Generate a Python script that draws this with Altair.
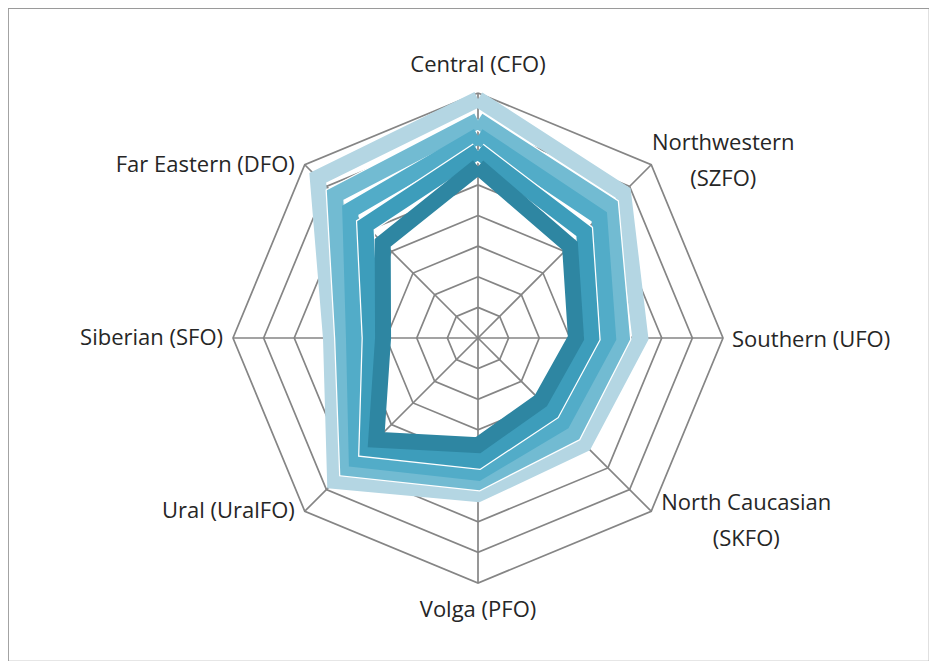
import altair as alt
import pandas as pd
import numpy as np

# ---- data ----
categories = ["Central (CFO)", "Northwestern\n(SZFO)", "Southern (UFO)",
              "North Caucasian\n(SKFO)", "Volga (PFO)", "Ural (UralFO)",
              "Siberian (SFO)", "Far Eastern (DFO)"]
series_names = ["S1", "S2", "S3", "S4", "S5"]
s1 = [7.8, 6.7, 5.3, 4.9, 5.1, 6.6, 4.8, 7.4]
s2 = [7.1, 6.1, 4.7, 4.4, 4.7, 6.0, 4.4, 6.6]
s3 = [6.6, 5.6, 4.25, 3.9, 4.4, 5.6, 4.05, 5.9]
s4 = [6.1, 4.9, 3.7, 3.4, 4.0, 5.1, 3.5, 5.2]
s5 = [5.6, 4.25, 3.2, 2.9, 3.5, 4.7, 3.1, 4.4]
series_values = [s1, s2, s3, s4, s5]
colors = ["#b4d6e3", "#72bbd2", "#52acc8", "#3d9dbb", "#2e86a2"]
highlight = [False, True, False, True, False]
rings = [1, 2, 3, 4, 5, 6, 7, 8]

# ---- geometry (styles) ----
W, H = 921, 653
CX, CY = 470, 330
PX = 30.625
xdom = [-CX / PX, (W - CX) / PX]
ydom = [-(H - CY) / PX, CY / PX]
n = len(categories)
ang = [2 * np.pi * j / n for j in range(n)]

xs = alt.X("x:Q", scale=alt.Scale(domain=xdom, nice=False, zero=False), axis=None)
ys = alt.Y("y:Q", scale=alt.Scale(domain=ydom, nice=False, zero=False), axis=None)

gcol = "#858585"
# grid rings
rows = []
for k in rings:
    for j in range(n + 1):
        a = ang[j % n]
        rows.append({"ring": k, "o": j, "x": k * np.sin(a), "y": k * np.cos(a)})
grid_df = pd.DataFrame(rows)
grid = alt.Chart(grid_df).mark_line(color=gcol, strokeWidth=1.7).encode(
    x=xs, y=ys, detail="ring:N", order="o:Q")

# spokes
sp = pd.DataFrame([{"x": 0.0, "y": 0.0, "x2": max(rings) * np.sin(a),
                    "y2": max(rings) * np.cos(a)} for a in ang])
spokes = alt.Chart(sp).mark_rule(color=gcol, strokeWidth=1.7).encode(
    x=xs, y=ys, x2="x2:Q", y2="y2:Q")

layers = [grid, spokes]

# series
for name, vals, col, hl in zip(series_names, series_values, colors, highlight):
    rows = []
    for j in range(n + 1):
        a = ang[j % n]
        v = vals[j % n]
        rows.append({"series": name, "o": j, "x": v * np.sin(a), "y": v * np.cos(a)})
    d = pd.DataFrame(rows)
    if hl:
        layers.append(alt.Chart(d).mark_line(color="white", strokeWidth=18.5,
                                              strokeJoin="miter").encode(x=xs, y=ys, order="o:Q"))
    layers.append(alt.Chart(d).mark_line(color=col, strokeWidth=16,
                                          strokeJoin="miter").encode(x=xs, y=ys, order="o:Q"))

# labels
R = max(rings)
lab_rows = []
for j, c in enumerate(categories):
    a = ang[j]
    sx, sy = np.sin(a), np.cos(a)
    lab_rows.append({"label": c, "x": R * sx, "y": R * sy, "sx": sx, "sy": sy})
lab = pd.DataFrame(lab_rows)

font = "Open Sans"
fs = 22
tcol = "#262626"
top = lab[lab.sy > 0.99]
bottom = lab[lab.sy < -0.99]
right = lab[(lab.sx > 0.5)]
left = lab[(lab.sx < -0.5)]

t_top = alt.Chart(top).mark_text(font=font, fontSize=fs, color=tcol, align="center",
                                 baseline="middle", dy=-28).encode(x=xs, y=ys, text="label:N")
t_bot = alt.Chart(bottom).mark_text(font=font, fontSize=fs, color=tcol, align="center",
                                    baseline="middle", dy=27).encode(x=xs, y=ys, text="label:N")
t_right_mid = alt.Chart(right[right.sy.abs() < 0.1]).mark_text(
    font=font, fontSize=fs, color=tcol, align="left", baseline="middle", dx=9, dy=2
).encode(x=xs, y=ys, text="label:N")
t_nw = alt.Chart(right[right.sy > 0.5]).mark_text(
    font=font, fontSize=fs, color=tcol, align="center", baseline="middle", dx=72, dy=-22,
    lineBreak="\n", lineHeight=36).encode(x=xs, y=ys, text="label:N")
t_nc = alt.Chart(right[right.sy < -0.5]).mark_text(
    font=font, fontSize=fs, color=tcol, align="center", baseline="middle", dx=95, dy=-8,
    lineBreak="\n", lineHeight=36).encode(x=xs, y=ys, text="label:N")
t_left = alt.Chart(left).mark_text(
    font=font, fontSize=fs, color=tcol, align="right", baseline="middle", dx=-10
).encode(x=xs, y=ys, text="label:N")

layers += [t_top, t_bot, t_right_mid, t_nw, t_nc, t_left]

chart = alt.layer(*layers).properties(
    width=W, height=H, padding=0, autosize=alt.AutoSizeParams(type="none")
).configure_view(stroke="#9a9a9a", strokeWidth=1.2)

chart.save("out.html", embed_options={"renderer": "svg", "actions": False})
